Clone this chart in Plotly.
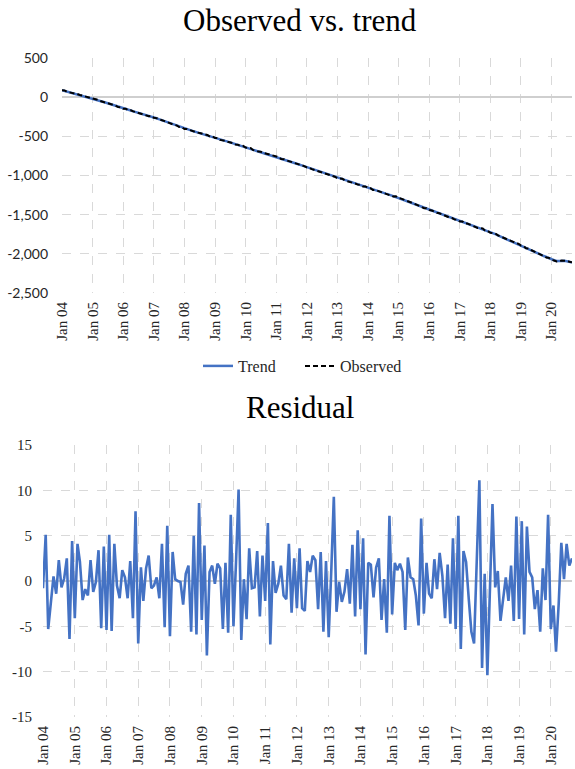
import pandas as pd
import plotly.graph_objects as go

# Monthly observation dates, Jan 2004 .. Sep 2020
DATES = pd.date_range("2004-01-01", "2020-09-01", freq="MS")

# Trend component (monthly)
TREND = [
    90, 81, 73, 64, 55, 46, 38, 29, 20, 11, 3, -6,                                     # 2004
    -15, -26, -36, -47, -58, -68, -79, -90, -100, -111, -122, -132,                    # 2005
    -143, -152, -162, -171, -181, -190, -200, -209, -219, -228, -238, -247,            # 2006
    -257, -269, -281, -293, -305, -317, -329, -340, -352, -364, -376, -388,            # 2007
    -400, -410, -419, -429, -439, -449, -458, -468, -478, -488, -497, -507,            # 2008
    -517, -527, -537, -548, -558, -568, -578, -588, -598, -609, -619, -629,            # 2009
    -639, -649, -659, -670, -680, -690, -700, -710, -720, -731, -741, -751,            # 2010
    -761, -772, -783, -794, -805, -816, -827, -838, -849, -860, -871, -882,            # 2011
    -893, -904, -916, -927, -938, -950, -961, -972, -984, -995, -1006, -1018,          # 2012
    -1029, -1040, -1050, -1061, -1071, -1082, -1092, -1103, -1114, -1124, -1135, -1145,  # 2013
    -1156, -1167, -1177, -1188, -1199, -1209, -1220, -1231, -1241, -1252, -1263, -1273,  # 2014
    -1284, -1297, -1310, -1322, -1335, -1348, -1361, -1373, -1386, -1399, -1412, -1424,  # 2015
    -1437, -1449, -1461, -1473, -1485, -1497, -1509, -1521, -1533, -1545, -1557, -1569,  # 2016
    -1581, -1593, -1604, -1616, -1628, -1639, -1651, -1663, -1674, -1686, -1698, -1709,  # 2017
    -1721, -1735, -1749, -1764, -1778, -1792, -1806, -1820, -1834, -1849, -1863, -1877,  # 2018
    -1891, -1906, -1922, -1937, -1952, -1967, -1983, -1998, -2013, -2028, -2044, -2059,  # 2019
    -2073, -2082, -2090, -2093, -2090, -2089, -2093, -2102, -2112,                     # 2020
]

# Residual component (monthly)
RESIDUAL = [
    -0.8, 5.1, -5.3, -2.0, 0.5, -1.4, 2.3, -0.7, 0.3, 2.5, -6.4, 4.4,      # 2004
    -4.1, 4.1, 2.1, -2.1, -0.9, -1.6, 2.3, -1.2, -0.1, 3.4, -5.2, 3.8,     # 2005
    -5.4, 5.1, -5.5, 4.1, -0.5, -1.9, 1.2, 0.4, -1.9, 2.2, -4.1, 7.7,      # 2006
    -6.9, 1.5, -2.2, 1.4, 2.8, -0.8, -0.5, 0.4, -1.9, 4.1, -5.1, 6.1,      # 2007
    -6.1, 3.2, 0.2, 0.0, -0.1, -2.6, 0.8, 1.7, -5.6, 5.0, -5.9, 8.6,       # 2008
    -4.3, 3.9, -8.2, 1.0, 1.7, -0.3, 1.9, 1.4, -5.3, 2.0, -5.7, 7.3,       # 2009
    -5.0, 2.5, 10.1, -6.5, 0.2, -4.2, 3.6, -0.8, -0.7, 3.3, -3.9, 2.8,     # 2010
    -2.2, 6.4, -7.0, 2.2, -1.3, -0.3, 1.7, -1.6, -2.0, 4.1, -3.5, 2.5,     # 2011
    -3.0, 3.6, -3.0, -3.3, 2.2, 1.0, 2.8, 2.3, -3.1, 3.2, -5.6, 2.2,       # 2012
    -6.2, 1.5, 9.3, -3.4, -0.1, -2.3, -1.2, 1.3, -2.5, 4.0, -3.9, 5.6,     # 2013
    -3.1, 4.7, -8.1, 2.0, 1.8, -1.8, 1.5, 2.5, -4.3, 0.2, -5.7, 7.2,       # 2014
    -3.7, 2.0, 1.2, 1.9, 1.0, -5.4, 2.6, 0.4, 0.2, -1.6, -4.9, 6.9,        # 2015
    -3.6, 2.0, -1.4, -1.9, 2.4, -0.9, 3.1, 0.6, -4.1, 1.8, -4.7, 4.7,      # 2016
    -5.3, 7.2, -7.5, 3.3, 2.1, -2.0, -5.6, -6.9, 2.2, 11.1, -9.6, 0.8,     # 2017
    -10.4, -1.0, 8.5, -0.7, 1.1, -4.4, -2.3, 0.4, -2.2, 1.7, -4.4, 7.1,    # 2018
    -4.2, 6.6, -5.9, 6.0, 1.0, 0.4, -3.1, -1.0, -5.6, 1.4, -2.1, 7.3,      # 2019
    -5.3, -2.7, -7.8, -2.5, 4.2, 0.2, 4.1, 1.7, 2.5,                       # 2020
]

# Observed series = trend + residual (additive decomposition)
OBSERVED = [t + r for t, r in zip(TREND, RESIDUAL)]

# Axis ticks
X_TICK_DATES = [f"{y}-01-01" for y in range(2004, 2021)]
X_TICK_LABELS = ["Jan 04", "Jan 05", "Jan 06", "Jan 07", "Jan 08", "Jan 09",
                 "Jan 10", "Jan 11", "Jan 12", "Jan 13", "Jan 14", "Jan 15",
                 "Jan 16", "Jan 17", "Jan 18", "Jan 19", "Jan 20"]
Y1_TICKS = [500, 0, -500, -1000, -1500, -2000, -2500]
Y1_LABELS = ["500", "0", "-500", "-1,000", "-1,500", "-2,000", "-2,500"]
Y2_TICKS = [15, 10, 5, 0, -5, -10, -15]
Y2_LABELS = ["15", "10", "5", "0", "-5", "-10", "-15"]

W, H = 575, 769
BLUE = "#4472C4"
GRID = "#d9d9d9"
SERIF = "Liberation Serif"
SANS = "Lato"
TXT = "#262626"

fig = go.Figure()
fig.add_trace(go.Scatter(x=DATES, y=TREND, name="Trend", mode="lines",
                         line=dict(color=BLUE, width=2.5), xaxis="x", yaxis="y"))
fig.add_trace(go.Scatter(x=DATES, y=OBSERVED, name="Observed", mode="lines",
                         line=dict(color="black", width=2, dash="5px,3px"),
                         xaxis="x", yaxis="y"))
fig.add_trace(go.Scatter(x=DATES, y=RESIDUAL, name="Residual", mode="lines",
                         line=dict(color=BLUE, width=2.6), showlegend=False,
                         xaxis="x2", yaxis="y2"))

x_common = dict(
    type="date", range=["2004-01-01", "2020-09-01"], automargin=False,
    tickmode="array", tickvals=X_TICK_DATES, ticktext=X_TICK_LABELS,
    tickangle=-90, ticks="", ticklabelstandoff=5,
    tickfont=dict(family=SERIF, size=15, color=TXT),
    showgrid=True, gridcolor=GRID, gridwidth=1, griddash="dash",
    showline=False, zeroline=False,
)
y_common = dict(
    tickmode="array", ticks="", automargin=False,
    showgrid=True, gridcolor=GRID, gridwidth=1, griddash="dash",
    showline=False, zeroline=True, zerolinecolor="#cfcfcf", zerolinewidth=1.5,
)

fig.update_layout(
    width=W, height=H, autosize=False,
    margin=dict(l=0, r=0, t=0, b=0, pad=0),
    paper_bgcolor="white", plot_bgcolor="white",
    font=dict(family=SERIF, color=TXT),
    xaxis=dict(domain=[62 / W, 572 / W], anchor="y", **x_common),
    yaxis=dict(domain=[1 - 293 / H, 1 - 58 / H], anchor="x",
               range=[-2500, 500], tickvals=Y1_TICKS, ticktext=Y1_LABELS,
               ticklabelstandoff=13,
               tickfont=dict(family=SANS, size=14, color=TXT), **y_common),
    xaxis2=dict(domain=[43 / W, 572 / W], anchor="y2", **x_common),
    yaxis2=dict(domain=[1 - 717 / H, 1 - 445 / H], anchor="x2",
                range=[-15, 15], tickvals=Y2_TICKS, ticktext=Y2_LABELS,
                ticklabelstandoff=10,
                tickfont=dict(family=SERIF, size=15, color=TXT), **y_common),
    legend=dict(orientation="h", x=300 / W, xanchor="center",
                y=1 - 366 / H, yanchor="middle", entrywidth=57,
                font=dict(family=SERIF, size=16, color=TXT),
                bgcolor="rgba(0,0,0,0)"),
    showlegend=True,
    annotations=[
        dict(text="Observed vs. trend", x=300 / W, y=1 - 20 / H,
             xref="paper", yref="paper", xanchor="center", yanchor="middle",
             showarrow=False, font=dict(family=SERIF, size=31, color="black")),
        dict(text="Residual", x=300 / W, y=1 - 407 / H,
             xref="paper", yref="paper", xanchor="center", yanchor="middle",
             showarrow=False, font=dict(family=SERIF, size=31, color="black")),
    ],
)

fig.write_html("out.html")
